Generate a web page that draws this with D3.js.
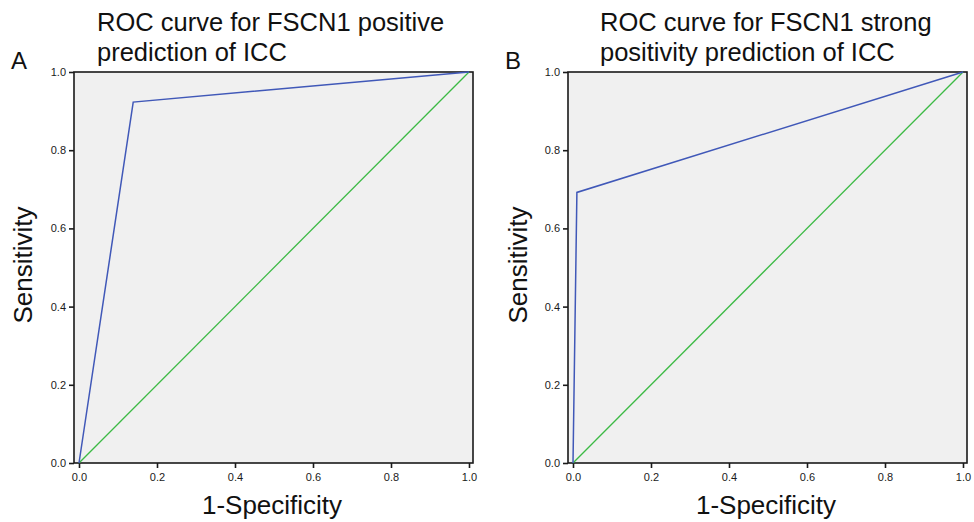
<!DOCTYPE html>
<html>
<head>
<meta charset="utf-8">
<script src="https://cdn.jsdelivr.net/npm/d3@7"></script>
<style>
  body { margin: 0; background: #fff; }
  svg { display: block; font-family: "Liberation Sans", Arial, sans-serif; }
</style>
</head>
<body>
<div id="container"></div>
<script>
const { d3 } = window;

// ROC points, [1-specificity, sensitivity]
const rocA = [[0, 0], [0.139, 0.923], [1, 1]];
const rocB = [[0, 0], [0.01, 0.692], [1, 1]];
const refLine = [[0, 0], [1, 1]];
const ticks = [0, 0.2, 0.4, 0.6, 0.8, 1.0];

const panels = [
  { letter: 'A', title: ['ROC curve for FSCN1 positive', 'prediction of ICC'], roc: rocA, left: 79, titleX: 97, letterX: 11, ylabX: 32 },
  { letter: 'B', title: ['ROC curve for FSCN1 strong', 'positivity prediction of ICC'], roc: rocB, left: 573, titleX: 600, letterX: 505, ylabX: 527 },
];

const W = 974, H = 522;
const plotTop = 72, plotBottom = 463, plotW = 390, pad = 5;

function drawPanel(svg, p) {
  const x = d3.scaleLinear().domain([0, 1]).range([p.left, p.left + plotW]);
  const y = d3.scaleLinear().domain([0, 1]).range([plotBottom, plotTop]);
  const g = svg.append('g');

  g.append('rect')
    .attr('x', x(0) - pad)
    .attr('y', plotTop)
    .attr('width', plotW + pad * 2 - 1)
    .attr('height', plotBottom - plotTop)
    .attr('fill', '#f0f0f0')
    .attr('stroke', '#1a1a1a')
    .attr('stroke-width', 1.6);

  const xAxis = d3.axisBottom(x).tickValues(ticks).tickFormat(d3.format('.1f')).tickSize(5).tickSizeOuter(0);
  const yAxis = d3.axisLeft(y).tickValues(ticks).tickFormat(d3.format('.1f')).tickSize(5).tickSizeOuter(0);

  const gx = g.append('g').attr('transform', `translate(0,${plotBottom})`).call(xAxis);
  const gy = g.append('g').attr('transform', `translate(${x(0) - pad},0)`).call(yAxis);
  [gx, gy].forEach((a) => {
    a.select('.domain').remove();
    a.selectAll('line').attr('stroke', '#1a1a1a').attr('stroke-width', 1.6);
    a.selectAll('text').attr('fill', '#1a1a1a').style('font-size', '11px');
  });
  gx.selectAll('text').attr('dy', '0.9em');

  const line = d3.line().x((d) => x(d[0])).y((d) => y(d[1]));
  g.append('path').datum(refLine).attr('d', line)
    .attr('fill', 'none').attr('stroke', '#3cba45').attr('stroke-width', 1.3);
  g.append('path').datum(p.roc).attr('d', line)
    .attr('fill', 'none').attr('stroke', '#4058b8').attr('stroke-width', 1.5);

  g.append('text')
    .attr('x', p.letterX).attr('y', 69)
    .style('font-size', '24px').attr('fill', '#111')
    .text(p.letter);

  g.append('text')
    .attr('x', p.titleX).attr('y', 31)
    .style('font-size', '25.5px').attr('fill', '#111')
    .selectAll('tspan')
    .data(p.title)
    .join('tspan')
    .attr('x', p.titleX)
    .attr('dy', (d, i) => (i ? 30 : 0))
    .text((d) => d);

  g.append('text')
    .attr('x', x(0.5) - 2).attr('y', 514)
    .attr('text-anchor', 'middle')
    .style('font-size', '26px').attr('fill', '#111')
    .text('1-Specificity');

  g.append('text')
    .attr('transform', `translate(${p.ylabX},265) rotate(-90)`)
    .attr('text-anchor', 'middle')
    .style('font-size', '26px').attr('fill', '#111')
    .text('Sensitivity');
}

function boot() {
  const svg = d3.select('#container')
    .append('svg')
    .attr('width', W)
    .attr('height', H);
  panels.forEach((p) => drawPanel(svg, p));
}

boot();
</script>
</body>
</html>
